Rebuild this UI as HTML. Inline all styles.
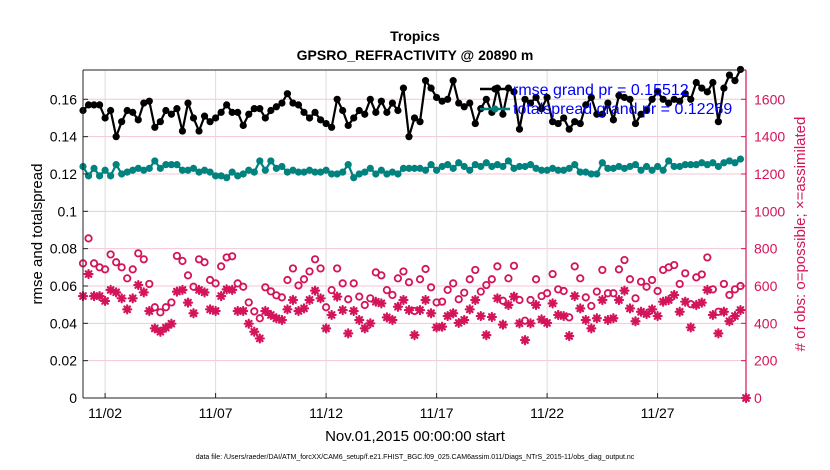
<!DOCTYPE html>
<html><head><meta charset="utf-8">
<style>
body{margin:0;background:#fff;}
svg{display:block;font-family:"Liberation Sans",Arial,sans-serif;}
</style></head>
<body>
<svg id="chart" width="830" height="470" viewBox="0 0 830 470" xmlns="http://www.w3.org/2000/svg">
<rect width="830" height="470" fill="#fff"/>
<g id="grid"></g>
<g id="series"></g>
<g id="axes"></g>
<text x="415" y="41" text-anchor="middle" font-size="14" font-weight="bold">Tropics</text>
<text x="415" y="60" text-anchor="middle" font-size="14" font-weight="bold">GPSRO_REFRACTIVITY @ 20890 m</text>
<text x="415" y="441" text-anchor="middle" font-size="15">Nov.01,2015 00:00:00 start</text>
<text transform="translate(42,234) rotate(-90)" text-anchor="middle" font-size="15">rmse and totalspread</text>
<text transform="translate(805,234) rotate(-90)" text-anchor="middle" font-size="15" fill="#d4145a"># of obs: o=possible; ×=assimilated</text>
<text x="415" y="459" text-anchor="middle" font-size="7">data file: /Users/raeder/DAI/ATM_forcXX/CAM6_setup/f.e21.FHIST_BGC.f09_025.CAM6assim.011/Diags_NTrS_2015-11/obs_diag_output.nc</text>
<g>
<line x1="480" y1="89" x2="510" y2="89" stroke="#000" stroke-width="2.5"/>
<circle cx="495" cy="89" r="3.6" fill="#000"/>
<text x="513" y="95" font-size="16" fill="#0000ff">rmse grand pr = 0.15512</text>
<line x1="480" y1="109" x2="510" y2="109" stroke="#00827f" stroke-width="2.5"/>
<circle cx="495" cy="109" r="3.6" fill="#00827f"/>
<text x="513" y="114" font-size="16" fill="#0000ff">totalspread grand pr = 0.12269</text>
</g>
</svg>
<script>
const rmse=[0.154,0.157,0.157,0.157,0.150,0.154,0.140,0.148,0.154,0.153,0.149,0.158,0.159,0.145,0.148,0.154,0.152,0.155,0.143,0.158,0.150,0.143,0.151,0.148,0.150,0.153,0.157,0.153,0.153,0.146,0.152,0.155,0.155,0.150,0.154,0.156,0.158,0.163,0.158,0.157,0.153,0.150,0.153,0.149,0.147,0.145,0.160,0.154,0.146,0.150,0.154,0.152,0.160,0.153,0.159,0.153,0.158,0.154,0.166,0.140,0.150,0.148,0.170,0.166,0.161,0.159,0.160,0.170,0.158,0.156,
0.158,0.147,0.155,0.160,0.153,0.166,0.152,0.166,0.164,0.144,0.160,0.158,0.161,0.155,0.161,0.148,0.147,0.150,0.144,0.148,0.147,0.157,0.161,0.152,0.152,0.158,0.149,0.162,0.161,0.160,0.147,0.152,0.154,0.160,0.164,0.160,0.158,0.160,0.159,0.163,0.160,0.169,0.166,0.164,0.169,0.148,0.166,0.173,0.170,0.176];
const spread=[0.124,0.119,0.123,0.119,0.122,0.119,0.125,0.120,0.121,0.122,0.123,0.122,0.123,0.127,0.123,0.125,0.125,0.125,0.122,0.122,0.123,0.121,0.122,0.121,0.119,0.119,0.118,0.121,0.119,0.120,0.122,0.121,0.127,0.122,0.127,0.123,0.124,0.121,0.122,0.121,0.121,0.122,0.121,0.121,0.122,0.120,0.120,0.121,0.125,0.118,0.120,0.121,0.123,0.120,0.122,0.120,0.121,0.120,0.123,0.123,0.123,0.123,0.122,0.125,0.122,0.124,0.125,0.123,0.126,0.124,
0.122,0.125,0.124,0.126,0.124,0.125,0.124,0.127,0.123,0.124,0.124,0.125,0.123,0.122,0.122,0.123,0.122,0.122,0.123,0.125,0.121,0.121,0.120,0.120,0.126,0.123,0.123,0.124,0.123,0.124,0.125,0.122,0.124,0.122,0.124,0.122,0.127,0.124,0.124,0.125,0.125,0.125,0.126,0.125,0.126,0.124,0.126,0.127,0.126,0.128];
const possible=[721,855,721,700,689,769,727,700,641,689,775,743,611,486,459,486,512,761,734,657,596,743,727,632,614,705,753,759,614,596,512,464,427,593,571,550,539,632,694,603,636,678,743,694,486,578,694,614,529,614,543,498,534,673,657,578,552,641,678,620,466,636,691,593,512,
516,579,614,529,564,636,686,570,605,636,705,521,641,708,525,414,525,636,546,561,664,582,573,432,705,641,539,493,570,686,561,561,689,739,636,534,623,596,632,573,686,700,712,611,668,503,646,662,753,582,462,611,552,582,600];
const assimilated=[546,664,546,546,520,579,566,534,475,534,605,566,466,373,355,377,398,570,579,511,454,579,566,475,466,546,582,579,466,466,398,355,319,466,445,427,418,475,525,466,480,525,575,534,373,445,543,471,346,466,418,373,400,516,507,432,418,489,525,471,337,471,525,454,378,
382,439,454,402,418,475,525,439,337,434,534,393,498,543,400,310,400,498,421,402,507,445,439,332,546,480,418,373,427,525,418,427,525,575,480,411,462,450,475,439,516,525,552,462,516,378,498,511,579,445,346,462,411,439,471];
const xTickLabels=["11/02","11/07","11/12","11/17","11/22","11/27"];
const xTickDays=[1,6,11,16,21,26];
const leftTicks=[0,0.02,0.04,0.06,0.08,0.1,0.12,0.14,0.16];
const leftTickLabels=["0","0.02","0.04","0.06","0.08","0.1","0.12","0.14","0.16"];
const rightTicks=[0,200,400,600,800,1000,1200,1400,1600];

const X0=83,X1=746,Y0=70,Y1=398,LMAX=0.1757,RMAX=1757,DAYS=30,STEPS_PER_DAY=4;
const xDay=d=>X0+(d/DAYS)*(X1-X0);
const xIdx=i=>xDay(i/STEPS_PER_DAY);
const yL=v=>Y1-(v/LMAX)*(Y1-Y0);
const yR=v=>Y1-(v/RMAX)*(Y1-Y0);
const NS="http://www.w3.org/2000/svg";
function mk(tag,attrs,parent){const e=document.createElementNS(NS,tag);for(const k in attrs)e.setAttribute(k,attrs[k]);parent.appendChild(e);return e;}
const grid=document.getElementById('grid'),ser=document.getElementById('series'),ax=document.getElementById('axes');

leftTicks.forEach((t,i)=>{
  if(t===0)return;
  const g=mk('line',{x1:X0,x2:X1,y1:yL(t),y2:yL(t),stroke:'#f4c6d6','stroke-width':1},grid);
  
  
});
xTickDays.forEach((d,i)=>{
  const g=mk('line',{x1:xDay(d),x2:xDay(d),y1:Y0,y2:Y1,stroke:'#dcdcdc','stroke-width':1},grid);
  
  
  const t=mk('text',{x:xDay(d),y:Y1+20,'text-anchor':'middle','font-size':14},ax);
  t.textContent=xTickLabels[i];
  
  
  const tk=mk('line',{x1:xDay(d),x2:xDay(d),y1:Y1,y2:Y1-5,stroke:'#222'},ax);
  
  
});

function star(cx,cy,parent){
  const g=mk('g',{stroke:'#d4145a','stroke-width':2.2,'stroke-linecap':'round'},parent);
  const r=4;
  [[0,r],[r,0],[r*0.7,r*0.7],[r*0.7,-r*0.7]].forEach(([dx,dy])=>mk('line',{x1:cx-dx,y1:cy-dy,x2:cx+dx,y2:cy+dy},g));
  return g;
}
possible.forEach((v,i)=>{
  const c=mk('circle',{cx:xIdx(i),cy:yR(v),r:3.2,fill:'none',stroke:'#d4145a','stroke-width':1.8},ser);
  
  
});
assimilated.forEach((v,i)=>{
  const s=star(xIdx(i),yR(v),ser);
  
  
});
function lineSeries(arr,color,name){
  const pts=arr.map((v,i)=>xIdx(i).toFixed(1)+','+yL(v).toFixed(1)).join(' ');
  const p=mk('polyline',{points:pts,fill:'none',stroke:color,'stroke-width':2.2,'stroke-linejoin':'round'},ser);
  
  
  arr.forEach((v,i)=>{
    const c=mk('circle',{cx:xIdx(i),cy:yL(v),r:3.6,fill:color},ser);
    
    
  });
}
lineSeries(spread,'#00827f','totalspread');
lineSeries(rmse,'#000000','rmse');

leftTicks.forEach((t,i)=>{
  const tx=mk('text',{x:X0-6,y:yL(t)+5,'text-anchor':'end','font-size':14},ax);
  tx.textContent=leftTickLabels[i];
  
  
  const tk=mk('line',{x1:X0,x2:X0+5,y1:yL(t),y2:yL(t),stroke:'#222'},ax);
  
  
});
rightTicks.forEach(t=>{
  const tx=mk('text',{x:X1+8,y:yR(t)+5,'font-size':14,fill:'#d4145a'},ax);
  tx.textContent=String(t);
  
  
  const tk=mk('line',{x1:X1,x2:X1-5,y1:yR(t),y2:yR(t),stroke:'#d4145a'},ax);
  
  
});
const topBorder=mk('line',{x1:X0,x2:X1,y1:Y0,y2:Y0,stroke:'#222'},ax);


const bottomAxis=mk('line',{x1:X0,x2:X1,y1:Y1,y2:Y1,stroke:'#222'},ax);


const leftAxis=mk('line',{x1:X0,x2:X0,y1:Y0,y2:Y1,stroke:'#222'},ax);


const rightAxis=mk('line',{x1:X1,x2:X1,y1:Y0,y2:Y1,stroke:'#d4145a','stroke-width':1.2},ax);


const cornerStar=star(X1,Y1,ax);


</script>
</body></html>
